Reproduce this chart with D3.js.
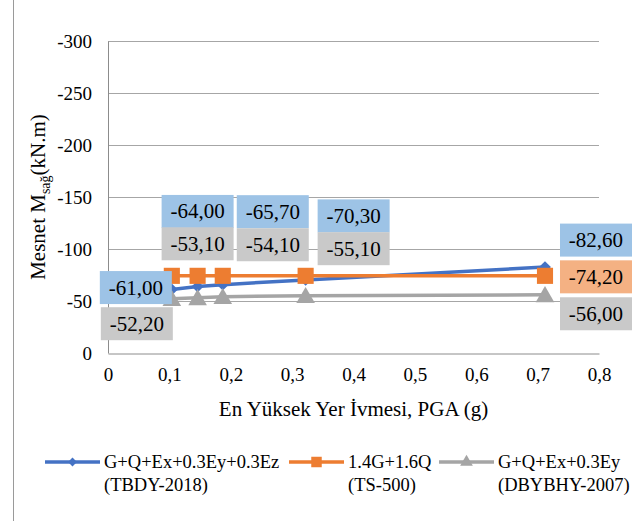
<!DOCTYPE html>
<html><head><meta charset="utf-8"><script src="https://cdn.jsdelivr.net/npm/d3@7"></script></head>
<body style="margin:0">
<script>
// Data
const pga = [0.104, 0.146, 0.187, 0.322, 0.712];
const tbdy = [-61.0, -64.0, -65.7, -70.3, -82.6];
const ts500 = [-74.2, -74.2, -74.2, -74.2, -74.2];
const dbybhy = [-52.2, -53.1, -54.1, -55.1, -56.0];
const yTicks = [0, -50, -100, -150, -200, -250, -300];
const xTicks = [0, 0.1, 0.2, 0.3, 0.4, 0.5, 0.6, 0.7, 0.8];
const seriesNames = [
  ["G+Q+Ex+0.3Ey+0.3Ez", "(TBDY-2018)"],
  ["1.4G+1.6Q", "(TS-500)"],
  ["G+Q+Ex+0.3Ey", "(DBYBHY-2007)"]
];

const width = 635, height = 521;
const margin = { top: 41, right: 36, bottom: 168, left: 108 };
const FONT = '"Liberation Serif"';

const svg = d3.select("body").append("svg")
  .attr("width", width)
  .attr("height", height);

// text helper, serif like the original
function label(parent, size) {
  return parent.append("text").style("font-family", FONT).attr("font-size", size);
}

// outer frame edge
svg.append("line")
  .attr("x1", 13.5).attr("x2", 13.5).attr("y1", 0).attr("y2", height)
  .attr("stroke", "#9a9a9a").attr("stroke-width", 1);

// Scales
const x = d3.scaleLinear().domain([0, 0.8]).range([margin.left, width - margin.right]);
const y = d3.scaleLinear().domain([0, -300]).range([height - margin.bottom, margin.top]);

// Gridlines
svg.append("g").selectAll("line")
  .data(yTicks.filter(d => d !== 0))
  .enter().append("line")
  .attr("x1", x(0)).attr("x2", x(0.8))
  .attr("y1", d => Math.round(y(d)) + 0.5).attr("y2", d => Math.round(y(d)) + 0.5)
  .attr("stroke", "#a6a6a6").attr("stroke-width", 1);

// Axes
const yAxis = svg.append("g")
  .attr("transform", `translate(${x(0)},0)`)
  .call(d3.axisLeft(y).tickValues(yTicks).tickSize(0).tickPadding(16).tickFormat(d => String(d)));
const xAxis = svg.append("g")
  .attr("transform", `translate(0,${Math.round(y(0)) + 0.5})`)
  .call(d3.axisBottom(x).tickValues(xTicks).tickSize(0).tickPadding(14)
    .tickFormat(d => d === 0 ? "0" : String(d).replace(".", ",")));
[xAxis, yAxis].forEach(a => {
  a.attr("font-family", null).attr("font-size", 19);
  a.selectAll("text").style("font-family", FONT);
  a.select(".domain").attr("stroke", "#8c8c8c");
});

// Axis titles
label(svg, 21)
  .attr("x", (x(0) + x(0.8)) / 2).attr("y", 416)
  .attr("text-anchor", "middle")
  .text("En Yüksek Yer İvmesi, PGA (g)");

const yt = label(svg, 21)
  .attr("transform", `translate(45,${(y(0) + y(-300)) / 2}) rotate(-90)`)
  .attr("text-anchor", "middle");
yt.append("tspan").text("Mesnet M");
yt.append("tspan").attr("dy", 5).attr("font-size", 14).text("sağ");
yt.append("tspan").attr("dy", -5).text("(kN.m)");

// Series
const colors = ["#4472c4", "#ed7d31", "#a5a5a5"];
const series = [tbdy, ts500, dbybhy];
const line = d3.line().x(d => x(d[0])).y(d => y(d[1]));

const symbols = [
  d3.symbol().type(d3.symbolDiamond2).size(90),
  d3.symbol().type(d3.symbolSquare).size(260),
  d3.symbol().type(d3.symbolTriangle).size(150)
];
const legendSymbols = [
  d3.symbol().type(d3.symbolDiamond2).size(50),
  d3.symbol().type(d3.symbolSquare).size(110),
  d3.symbol().type(d3.symbolTriangle).size(70)
];

series.forEach((vals, s) => {
  const pts = pga.map((p, i) => [p, vals[i]]);
  svg.append("path")
    .datum(pts)
    .attr("d", line)
    .attr("fill", "none")
    .attr("stroke", colors[s])
    .attr("stroke-width", 3.5);
  svg.append("g").selectAll("path")
    .data(pts)
    .enter().append("path")
    .attr("transform", d => `translate(${x(d[0])},${y(d[1]) + (s === 2 ? 2 : 0)})`)
    .attr("d", symbols[s]())
    .attr("fill", colors[s]);
});

// Data labels (box centre offset from the point, in px)
const labelFill = ["#9dc3e6", "#f4b183", "#c9c9c9"];
const labelPos = [
  [[-36, -2], [0, -75], [50, -73], [48, -64], [51, -27]],
  [null, null, null, null, [51, 1]],
  [[-35, 25], [0, -54], [50, -52], [48, -47], [51, 19]]
];
const fmt = v => v.toFixed(2).replace(".", ",");
const boxW = 72, boxH = 33;

[0, 2, 1].forEach(s => {
  series[s].forEach((v, i) => {
    const off = labelPos[s][i];
    if (!off) return;
    const cx = x(pga[i]) + off[0], cy = y(v) + off[1];
    svg.append("rect")
      .attr("x", cx - boxW / 2).attr("y", cy - boxH / 2)
      .attr("width", boxW).attr("height", boxH)
      .attr("fill", labelFill[s]);
    label(svg, 21)
      .attr("x", cx).attr("y", cy + 7)
      .attr("text-anchor", "middle")
      .text(fmt(v));
  });
});

// Legend
const legendX = [45, 289, 439];
seriesNames.forEach((names, s) => {
  const g = svg.append("g").attr("transform", `translate(${legendX[s]},462)`);
  g.append("line").attr("x1", 0).attr("x2", 55).attr("y1", 0).attr("y2", 0)
    .attr("stroke", colors[s]).attr("stroke-width", 3.5);
  g.append("path").attr("transform", "translate(27.5,0)")
    .attr("d", legendSymbols[s]()).attr("fill", colors[s]);
  label(g, 18.5).attr("x", 59).attr("y", 6).text(names[0]);
  label(g, 18.5).attr("x", 59).attr("y", 29).text(names[1]);
});
</script>
</body>
</html>
